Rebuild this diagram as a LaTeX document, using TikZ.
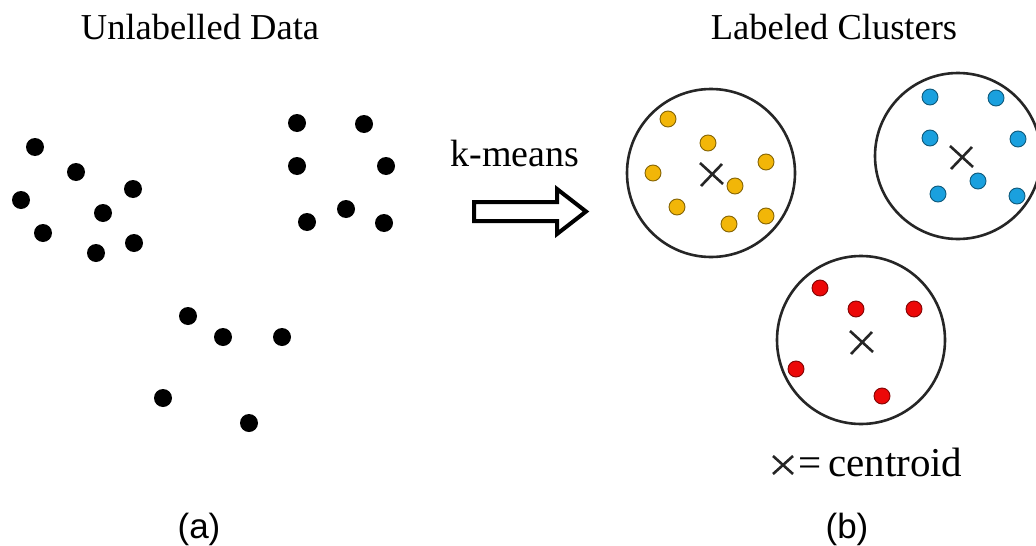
\documentclass[tikz,border=0pt]{standalone}
\usepackage{fontspec}
\setmainfont{Liberation Serif}
\newfontfamily\labelfont{Liberation Sans}
\begin{document}
\begin{tikzpicture}[x=1pt,y=-1pt,
  blackdot/.style={circle,fill=black,inner sep=0pt,minimum size=18pt},
  cdot/.style={circle,draw=#1!55!black,line width=0.9pt,fill=#1,inner sep=0pt,minimum size=16pt},
  cluster/.style={circle,draw=black!85,line width=2.6pt,inner sep=0pt,minimum size=#1},
  centroid/.style={line width=2.6pt,black!85},
  title/.style={anchor=base,font=\fontsize{36.5}{42}\selectfont},
  panel/.style={anchor=base,font=\labelfont\fontsize{35}{40}\selectfont}]
\definecolor{cyellow}{RGB}{242,182,8}
\definecolor{cblue}{RGB}{26,160,222}
\definecolor{cred}{RGB}{236,8,8}
\useasboundingbox[fill=white] (0,0) rectangle (1036,546);

% titles
\node[title] (t1) at (200,39) {Unlabelled Data};
\node[title] (t2) at (834,39) {Labeled Clusters};

% unlabelled points
\foreach \n/\x/\y in {a1/35/147,a2/76/172,a3/133/189,a4/21/200,a5/103/213,a6/43/233,a7/96/253,a8/134/243,
  b1/297/123,b2/364/124,b3/297/166,b4/386/166,b5/346/209,b6/307/222,b7/384/223,
  c1/188/316,c2/223/337,c3/282/337,c4/163/398,c5/249/423}
  \node[blackdot] (\n) at (\x,\y) {};

% k-means arrow
\node[title,font=\fontsize{38}{44}\selectfont] (km) at (515,166) {k-means};
\draw[line width=4pt,line join=miter] (474,202) -- (557,202) -- (557,189) -- (586,211.5)
  -- (557,234) -- (557,221) -- (474,221) -- cycle;

% clusters
\node[cluster=168pt] (ky) at (711,173) {};
\node[cluster=166pt] (kb) at (958,156) {};
\node[cluster=168pt] (kr) at (861,340) {};

\foreach \n/\x/\y in {y1/668/119,y2/708/143,y3/766/162,y4/653/173,y5/735/186,y6/677/207,y7/766/216,y8/729/224}
  \node[cdot=cyellow] (\n) at (\x,\y) {};
\foreach \n/\x/\y in {u1/930/97,u2/996/98,u3/930/138,u4/1018/139,u5/978/181,u6/938/194,u7/1017/196}
  \node[cdot=cblue] (\n) at (\x,\y) {};
\foreach \n/\x/\y in {r1/820/288,r2/856/309,r3/914/309,r4/796/369,r5/882/396}
  \node[cdot=cred] (\n) at (\x,\y) {};

% centroids
\foreach \cx/\cy in {711/174,961/157,861/342}{
  \draw[centroid] (\cx-11,\cy-11) -- (\cx+12,\cy+10);
  \draw[centroid] (\cx-10,\cy+12) -- (\cx+11,\cy-10);
}

% legend
\coordinate (lg) at (783,465);
\draw[centroid] ([shift={(-10,-9)}]lg) -- ([shift={(10,9)}]lg);
\draw[centroid] ([shift={(-10,9)}]lg) -- ([shift={(10,-9)}]lg);
\node[title,anchor=base west,inner sep=0pt,font=\fontsize{41}{46}\selectfont] (leg) at (798,476) {=\,centroid};

% panel labels
\node[panel] (pa) at (199,538) {(a)};
\node[panel] (pb) at (847,538) {(b)};
\end{tikzpicture}
\end{document}
